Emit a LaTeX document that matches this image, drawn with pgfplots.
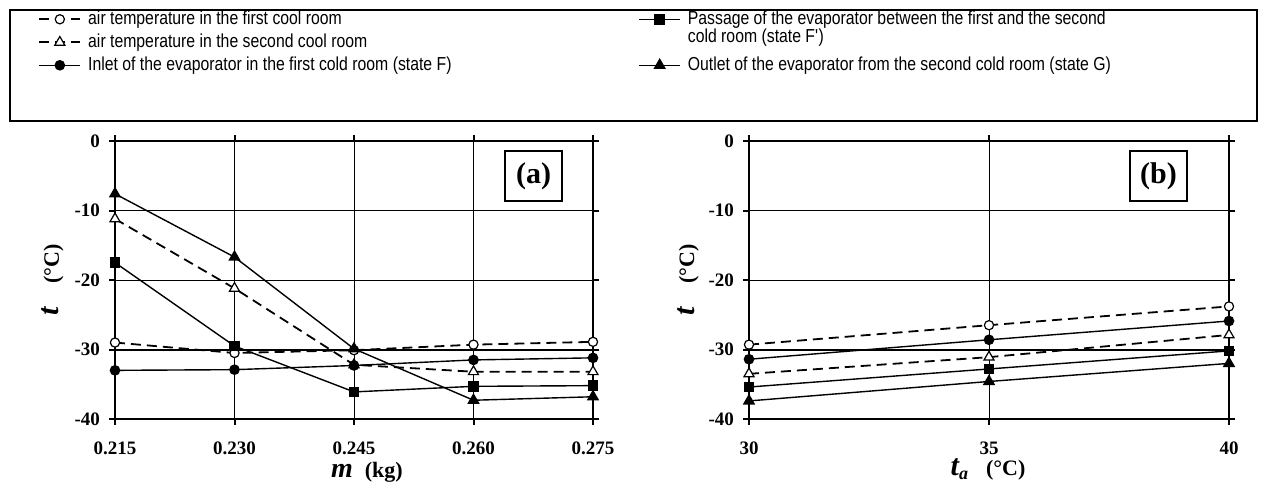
\documentclass[border=0pt]{standalone}
\usepackage{fontspec}
\setmainfont{Liberation Serif}
\newfontfamily\arial[FakeStretch=0.84]{Liberation Sans}
\usepackage{pgfplots}
\pgfplotsset{compat=1.18}
\pgfplotsset{
 panel/.style={
  scale only axis, height=139pt,
  ymin=-40, ymax=0, ytick={-40,-30,-20,-10,0}, yticklabels={-40,-30,-20,-10,0},
  grid=major, grid style={black, line width=0.5pt},
  axis line style={line width=1pt},
  tick align=outside, major tick length=3pt,
  tick style={black, line width=1pt},
  ticklabel style={font=\fontsize{9.5}{11}\selectfont\bfseries},
  yticklabel style={xshift=-1pt},
  xticklabel style={yshift=-5pt},
  extra y ticks={-30}, extra y tick labels={},
  extra y tick style={grid style={black,line width=1pt}},
  clip=false,
  legend image code/.code={\draw[mark repeat=2,mark phase=2,##1] plot coordinates {(0cm,0cm) (0.36cm,0cm) (0.72cm,0cm)};},
  legend style={draw=none, fill=none, anchor=north west,
    font=\arial\fontsize{9.4}{10}\selectfont, inner sep=0pt,
    nodes={inner sep=0pt, text height=6.8pt, text depth=2pt},
    /tikz/every odd column/.append style={column sep=3.5pt}},
  legend cell align=left,
  ylabel={{\fontsize{15}{15}\selectfont\bfseries\itshape t}\hspace{12pt}{\fontsize{11}{11}\selectfont\bfseries (°C)}},
 },
 s1/.style={black, line width=0.9pt, dash pattern=on 5pt off 3pt, mark=*, mark size=2.3pt, mark options={solid, fill=white, line width=0.6pt}},
 s2/.style={black, line width=0.9pt, dash pattern=on 5pt off 3pt, mark=triangle*, mark size=2.9pt, mark options={solid, fill=white, line width=0.6pt}},
 s3/.style={black, line width=0.7pt, solid, mark=*, mark size=2.3pt, mark options={solid, fill=black}},
 s4/.style={black, line width=0.7pt, solid, mark=square*, mark size=2.3pt, mark options={solid, fill=black}},
 s5/.style={black, line width=0.7pt, solid, mark=triangle*, mark size=2.9pt, mark options={solid, fill=black}},
}
\begin{document}
\begin{tikzpicture}
\useasboundingbox (0,0) rectangle (632.5pt,-241pt);
\draw[line width=1pt] (5pt,-5pt) rectangle (628.5pt,-60.5pt);
% panel (a)
\begin{axis}[panel, at={(57.5pt,-209.5pt)}, anchor=south west, width=239pt,
  xmin=0.215, xmax=0.275, xtick={0.215,0.23,0.245,0.26,0.275},
  xticklabels={0.215,0.230,0.245,0.260,0.275},
  xlabel={\smash{\fontsize{14}{15}\selectfont\bfseries\itshape m}\hspace{6pt}{\fontsize{11}{11}\selectfont\bfseries (kg)}},
  xlabel style={at={(axis description cs:0.527,-0.193)}, anchor=center},
  ylabel style={at={(axis description cs:-0.13,0.5)}, anchor=center},
  legend style={at={(axis description cs:-0.161,1.471)}, row sep=2.7pt}]
\addplot[s1] coordinates {(0.215,-29.0) (0.230,-30.5) (0.245,-30.1) (0.260,-29.3) (0.275,-28.9)};
\addlegendentry{air temperature in the first cool room}
\addplot[s2] coordinates {(0.215,-11.2) (0.230,-21.2) (0.245,-32.2) (0.260,-33.2) (0.275,-33.2)};
\addlegendentry{air temperature in the second cool room}
\addplot[s3] coordinates {(0.215,-33.0) (0.230,-32.9) (0.245,-32.3) (0.260,-31.5) (0.275,-31.2)};
\addlegendentry{Inlet of the evaporator in the first cold room (state F)}
\addplot[s4] coordinates {(0.215,-17.5) (0.230,-29.5) (0.245,-36.1) (0.260,-35.3) (0.275,-35.2)};
\addplot[s5] coordinates {(0.215,-7.6) (0.230,-16.7) (0.245,-29.9) (0.260,-37.3) (0.275,-36.8)};
\node[draw, line width=0.8pt, fill=white, minimum width=28.5pt, minimum height=25pt, inner sep=0pt, font=\fontsize{15}{15}\selectfont\bfseries] at (axis description cs:0.876,0.874) {(a)};
\end{axis}
% panel (b)
\begin{axis}[panel, at={(374.5pt,-209.5pt)}, anchor=south west, width=240pt,
  xmin=30, xmax=40, xtick={30,35,40}, xticklabels={30,35,40},
  xlabel={\smash{\fontsize{15}{15}\selectfont\bfseries\itshape t}\smash{\raisebox{-2pt}{\fontsize{9}{9}\selectfont\bfseries\itshape a}}\hspace{9pt}{\fontsize{11}{11}\selectfont\bfseries (°C)}},
  xlabel style={at={(axis description cs:0.498,-0.183)}, anchor=center},
  ylabel style={at={(axis description cs:-0.127,0.5)}, anchor=center},
  legend style={at={(axis description cs:-0.231,1.471)}, row sep=14.2pt}]
\addplot[s4] coordinates {(30,-35.4) (35,-32.8) (40,-30.2)};
\addlegendentry{\parbox[t]{300pt}{\baselineskip=9pt Passage of the evaporator between the first and the second\\cold room (state F\textquotesingle)}}
\addplot[s5] coordinates {(30,-37.4) (35,-34.6) (40,-32.0)};
\addlegendentry{Outlet of the evaporator from the second cold room (state G)}
\addplot[s1] coordinates {(30,-29.3) (35,-26.5) (40,-23.8)};
\addplot[s2] coordinates {(30,-33.5) (35,-31.1) (40,-27.9)};
\addplot[s3] coordinates {(30,-31.4) (35,-28.6) (40,-25.9)};
\node[draw, line width=0.8pt, fill=white, minimum width=28.5pt, minimum height=25pt, inner sep=0pt, font=\fontsize{15}{15}\selectfont\bfseries] at (axis description cs:0.853,0.874) {(b)};
\end{axis}
\end{tikzpicture}
\end{document}
